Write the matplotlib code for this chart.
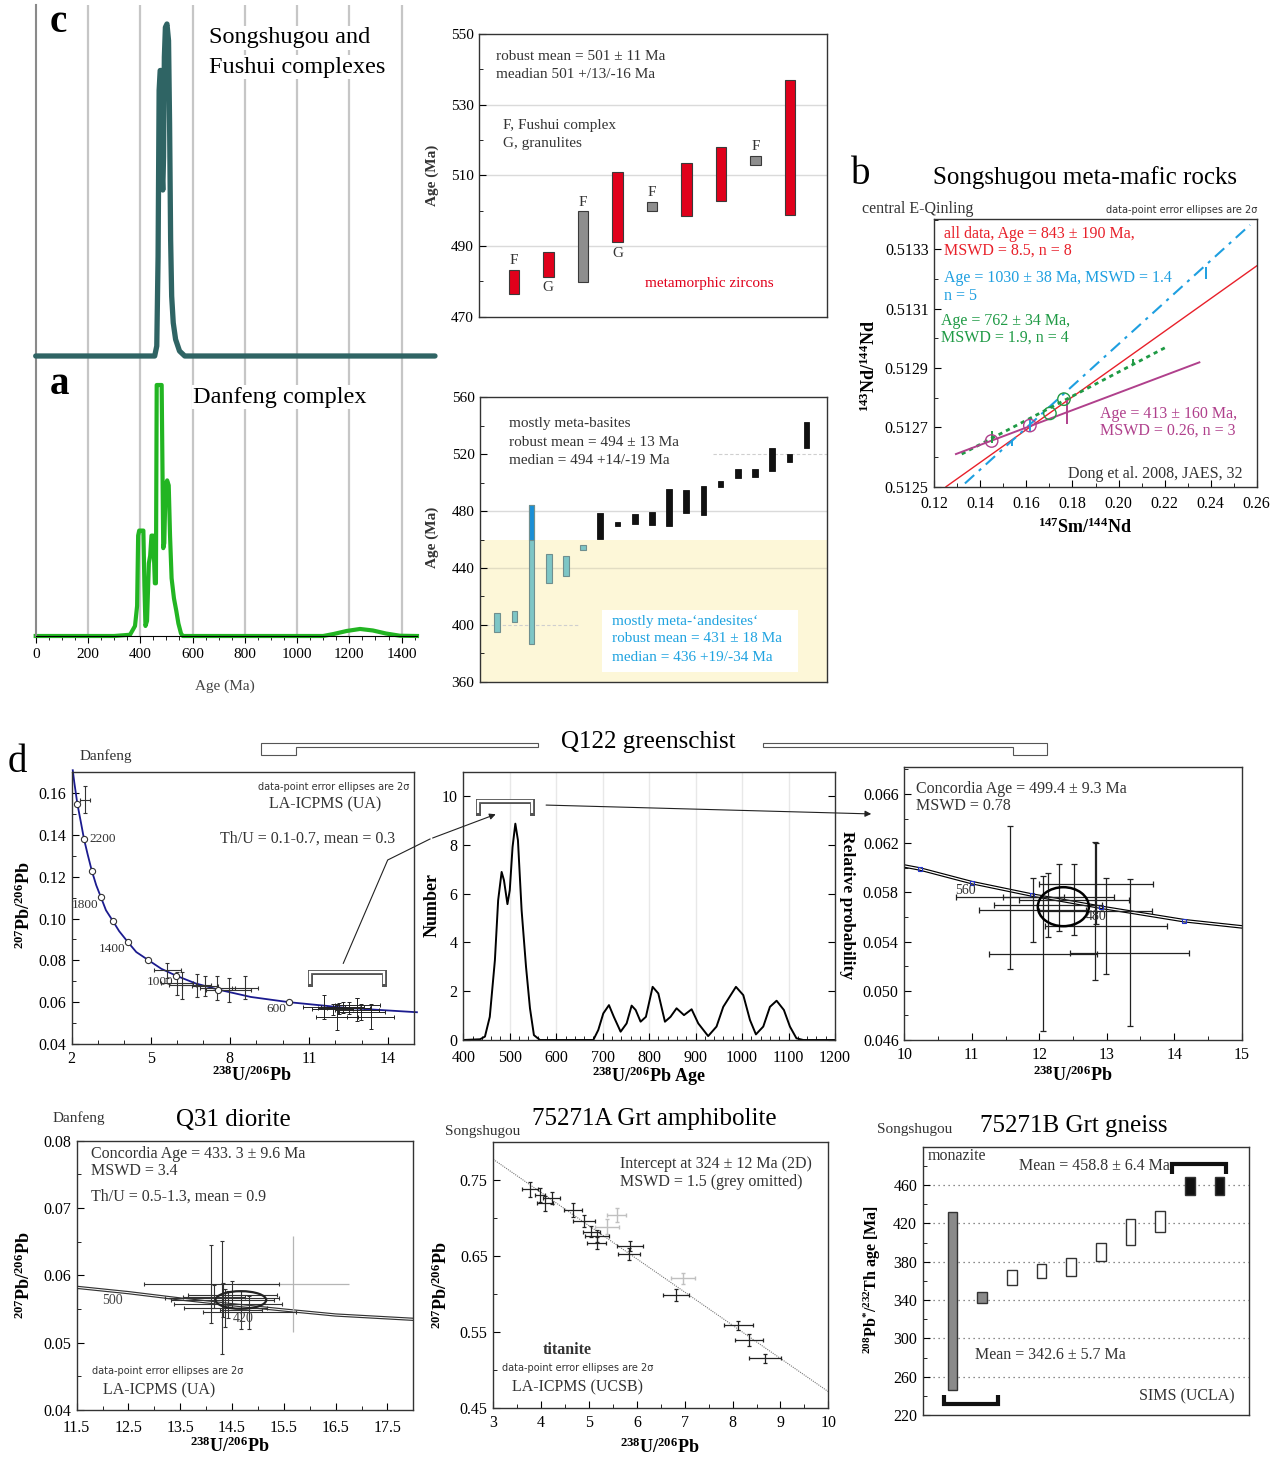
import numpy as np
import matplotlib
matplotlib.use('Agg')
import matplotlib.pyplot as plt
from matplotlib.patches import Ellipse, Rectangle, FancyArrowPatch, Polygon
from matplotlib.lines import Line2D
from matplotlib.ticker import MultipleLocator, FixedLocator, FormatStrFormatter, NullLocator

plt.rcParams['font.family'] = ['Liberation Serif', 'DejaVu Serif']
plt.rcParams['mathtext.fontset'] = 'custom'
plt.rcParams['mathtext.rm'] = 'Liberation Serif'
plt.rcParams['mathtext.it'] = 'Liberation Serif:italic'
plt.rcParams['mathtext.bf'] = 'Liberation Serif:bold'
plt.rcParams['xtick.direction'] = 'in'
plt.rcParams['ytick.direction'] = 'in'

#===# DATA #===#

#==# c / a : age spectra #==#
ageC = [0, 455, 463, 468, 472, 476, 480, 483, 486, 489, 492, 496, 502, 508, 512, 516, 520, 526, 535, 550, 570, 1527]
probC = [0, 0, 0.03, 0.30, 0.80, 0.86, 0.86, 0.55, 0.50, 0.60, 0.90, 0.99, 1.0, 0.95, 0.70, 0.35, 0.18, 0.10, 0.05, 0.015, 0, 0]

ageA = [0, 300, 361, 380, 388, 392, 396, 404, 412, 416, 420, 426, 433, 438, 443, 449, 453, 456, 460,
        463, 470, 482, 488, 492, 497, 503, 509, 514, 520, 529, 538, 546, 556, 563,
        1100, 1140, 1190, 1241, 1290, 1340, 1394, 1459]
probA = [0, 0, 0.005, 0.04, 0.12, 0.40, 0.42, 0.42, 0.42, 0.20, 0.04, 0.06, 0.29, 0.32, 0.40, 0.40, 0.30, 0.21, 0.21,
         1.0, 1.0, 1.0, 0.35, 0.37, 0.60, 0.62, 0.60, 0.40, 0.23, 0.15, 0.10, 0.05, 0.01, 0,
         0, 0.008, 0.02, 0.028, 0.022, 0.01, 0.001, 0]

#==# c : metamorphic zircon ages #==#
zr_lo = [476.4, 481.3, 479.7, 491.0, 500.0, 498.6, 502.7, 512.8, 498.9]
zr_hi = [483.2, 488.2, 499.8, 511.0, 502.5, 513.5, 517.9, 515.6, 537.0]
zr_kind = ['m', 'm', 'F', 'm', 'F', 'm', 'm', 'F', 'm']
zr_lab = ['F', 'G', 'F', 'G', 'F', '', '', 'F', '']
zr_lab_pos = ['up', 'down', 'up', 'down', 'up', '', '', 'up', '']
zr_ticks = [470, 490, 510, 530, 550]

#==# a : Danfeng ages #==#
df_lo = [394.7, 401.7, 386.5, 429.6, 434.6, 452.4, 460.1, 469.3, 471.1, 470.4, 469.3, 478.6, 477.2,
         497.2, 503.5, 504.0, 508.4, 514.3, 524.6]
df_hi = [408.5, 409.7, 484.3, 449.6, 448.6, 456.1, 478.9, 472.3, 477.7, 479.1, 495.8, 494.8, 497.6,
         501.1, 509.4, 509.8, 524.6, 519.9, 542.4]
df_andesite = [True] * 6 + [False] * 13
andesite_limit = 460

#==# b : Sm-Nd isochrons #==#
iso_red_x, iso_red_y = [0.1251, 0.26], [0.5125, 0.513244]
iso_blue_x, iso_blue_y = [0.1333, 0.2571], [0.512511, 0.513382]
iso_green_x, iso_green_y = [0.1319, 0.2216], [0.51261, 0.512974]
iso_purple_x, iso_purple_y = [0.1294, 0.2351], [0.51261, 0.512919]
nd_x = [0.1449, 0.1615, 0.1702, 0.1763]
nd_y = [0.512654, 0.512706, 0.512747, 0.512795]
nd_col = ['#b0408c', '#b0408c', '#1f9a45', '#1f9a45']
ndtick_x = [0.1615, 0.1536, 0.238, 0.2061, 0.1449, 0.1775]
ndtick_y = [0.512706, 0.512646, 0.513219, 0.512919, 0.512668, 0.512752]
ndtick_err = [0.00002, 0.00001, 0.00002, 0.00001, 0.00002, 0.00004]
ndtick_col = ['#1e9fe0', '#1e9fe0', '#1e9fe0', '#1f9a45', '#1f9a45', '#b0408c']

#==# d : Q122 concordia (full) #==#
conc1_x = [2.04, 2.10, 2.215, 2.35, 2.468, 2.60, 2.76, 2.93, 3.11, 3.30, 3.56, 3.80, 4.13, 4.45, 4.90,
           5.40, 5.96, 6.70, 7.57, 8.80, 10.25, 12.5, 15.1]
conc1_y = [0.171, 0.165, 0.1549, 0.146, 0.138, 0.131, 0.123, 0.116, 0.1102, 0.104, 0.0989, 0.094, 0.0888,
           0.084, 0.0802, 0.076, 0.0727, 0.069, 0.066, 0.0625, 0.0600, 0.0572, 0.0552]
conc1_mx = [2.215, 2.468, 2.76, 3.11, 3.56, 4.13, 4.90, 5.96, 7.57, 10.25]
conc1_my = [0.1549, 0.138, 0.123, 0.1102, 0.0989, 0.0888, 0.0802, 0.0727, 0.066, 0.0600]
old_x = [2.51, 5.63, 5.99, 6.20, 6.75, 7.06, 7.53, 7.95, 8.58]
old_y = [0.1568, 0.0752, 0.0690, 0.0680, 0.0680, 0.0678, 0.0667, 0.0657, 0.0670]
old_xe = [0.19, 0.51, 0.60, 0.50, 0.55, 0.50, 0.65, 0.85, 0.50]
old_ye = [0.0065, 0.0036, 0.0055, 0.0064, 0.0056, 0.0048, 0.0056, 0.0057, 0.0056]

#==# d : Q122 concordia (zoom) #==#
conc3_x = [10.0, 10.23, 11.0, 11.89, 12.92, 14.15, 15.0]
conc3_y = [0.06015, 0.05991, 0.0588, 0.05779, 0.05679, 0.0557, 0.0552]
young_x = [11.57, 11.90, 12.06, 12.13, 12.29, 12.52, 12.83, 12.99, 13.34, 12.84]
young_y = [0.0576, 0.0566, 0.0530, 0.0570, 0.0576, 0.0574, 0.0565, 0.0553, 0.0531, 0.0587]
young_xe = [0.80, 0.79, 0.80, 0.80, 0.82, 0.815, 0.84, 0.90, 0.88, 0.84]
young_ye = [0.0058, 0.0026, 0.0063, 0.0026, 0.0027, 0.0029, 0.0056, 0.0039, 0.0060, 0.0033]
q122_ell = (12.357, 0.05684, 0.756, 0.00317)

#==# d : Q122 age spectrum #==#
q_age = [400, 436, 446.6, 457, 468, 475, 482.5, 487.5, 495, 500, 506, 512, 517.6, 525.5, 535, 543.5, 552, 565,
         679.8, 690.5, 701.3, 713.5, 724, 738.6, 751.5, 762.3, 771, 781.6, 793, 807.5, 819.7, 834, 846, 859,
         875, 891.4, 905.7, 927, 945, 959.5, 986.8, 1002.6, 1017, 1029.8, 1045.6, 1060, 1074.3, 1090, 1103,
         1117, 1131.7, 1200]
q_num = [0, 0.03, 0.14, 0.95, 3.27, 5.73, 6.89, 6.55, 5.57, 6.14, 7.91, 8.87, 8.19, 5.32, 3.0, 1.3, 0.2, 0,
         0, 0.41, 1.09, 1.43, 0.95, 0.34, 0.68, 1.41, 1.23, 0.75, 0.95, 2.18, 1.91, 0.75, 0.95, 1.3,
         1.02, 1.26, 0.68, 0.16, 0.55, 1.36, 2.18, 1.84, 0.82, 0.23, 0.55, 1.36, 1.61, 1.23, 0.55,
         0.07, 0, 0]

#==# Q31 diorite #==#
conc_e_x = [11.5, 12.5, 13.5, 14.5, 15.5, 16.5, 18.0]
conc_e_y = [0.05822, 0.05743, 0.05649, 0.05564, 0.05485, 0.05411, 0.05347]
q31_x = [14.10, 14.30, 14.50, 14.32, 14.42, 14.37, 14.83, 14.67, 14.15]
q31_y = [0.0587, 0.0567, 0.0571, 0.0563, 0.0557, 0.0551, 0.0545, 0.0549, 0.0568]
q31_xe = [1.31, 1.10, 0.86, 0.99, 1.04, 0.80, 0.90, 0.40, 0.60]
q31_ye = [0.0058, 0.0084, 0.0020, 0.0025, 0.0020, 0.0028, 0.0025, 0.0028, 0.0017]
q31_grey = (15.67, 0.0587, 1.08, 0.0071)
q31_ell = (14.67, 0.05634, 0.98, 0.00262)

#==# 75271A titanite #==#
tit_line_x, tit_line_y = [3.0, 10.0], [0.7772, 0.4719]
tit_x = [3.77, 3.98, 4.08, 4.22, 4.67, 4.89, 5.05, 5.16, 5.16, 5.86, 5.84, 6.81, 8.12, 8.34, 8.68]
tit_y = [0.7378, 0.7303, 0.7194, 0.7268, 0.7106, 0.6966, 0.6822, 0.6765, 0.6677, 0.6633, 0.6528, 0.5989,
         0.5591, 0.5398, 0.5157]
tit_xe = [0.17, 0.10, 0.16, 0.18, 0.19, 0.23, 0.17, 0.25, 0.20, 0.27, 0.23, 0.27, 0.30, 0.30, 0.33]
tit_ye = [0.010, 0.009, 0.010, 0.008, 0.009, 0.008, 0.007, 0.008, 0.008, 0.007, 0.008, 0.008, 0.006, 0.008, 0.006]
titg_x = [5.58, 5.37, 6.97]
titg_y = [0.7041, 0.6887, 0.6208]
titg_xe = [0.20, 0.25, 0.25]
titg_ye = [0.009, 0.010, 0.007]

#==# 75271B monazite #==#
mz_lo = [246.1, 337.2, 355.7, 362.6, 365.0, 381.0, 397.0, 410.6, 449.6, 449.6]
mz_hi = [431.5, 348.7, 371.3, 377.2, 383.8, 399.8, 424.9, 432.9, 468.7, 468.7]
mz_kind = ['grey', 'grey', 'open', 'open', 'open', 'open', 'open', 'open', 'black', 'black']
mz_ticks = [220, 260, 300, 340, 380, 420, 460]

#===# FIGURE #===#
W, H = 1283, 1457
fig = plt.figure(figsize=(W / 100, H / 100), dpi=100)


def px_ax(l, t, r, b):
    return fig.add_axes([l / W, 1 - b / H, (r - l) / W, (b - t) / H])


def ftxt(x, y, s, **kw):
    kw.setdefault('va', 'center')
    kw.setdefault('ha', 'left')
    kw.setdefault('fontsize', 11)
    return fig.text(x / W, 1 - y / H, s, **kw)


def fline(xs, ys, **kw):
    fig.add_artist(Line2D([x / W for x in xs], [1 - y / H for y in ys], transform=fig.transFigure, **kw))


def box_style(ax, fs=11):
    ax.tick_params(labelsize=fs, which='both', top=False, right=False)
    ax.tick_params(which='major', length=5)
    ax.tick_params(which='minor', length=3)
    ax.tick_params(axis='x', pad=5)
    ax.tick_params(axis='y', pad=4)
    for s in ax.spines.values():
        s.set_linewidth(1.0)
        s.set_color('#333333')


def dbl_bracket(ax, xs, ys):
    ax.plot(xs, ys, color='#555555', lw=3.6, solid_capstyle='projecting', solid_joinstyle='miter', clip_on=False)
    ax.plot(xs, ys, color='white', lw=1.6, solid_capstyle='butt', solid_joinstyle='miter', clip_on=False)


#==# c / a spectra #==#
ax_a = px_ax(35.7, 5, 417, 636)
ax_a.set_xlim(0, 1459)
ax_a.set_ylim(0, 631 / 251)
for g in range(200, 1401, 200):
    ax_a.axvline(g, color='#c6c6c6', lw=1.6, zorder=0)
ax_a.plot(ageA, probA, color='#22b522', lw=3.0, solid_joinstyle='round', clip_on=False)
ax_a.spines['top'].set_visible(False)
ax_a.spines['right'].set_visible(False)
ax_a.spines['left'].set_color('#8a8a8a')
ax_a.spines['left'].set_linewidth(1.5)
ax_a.set_yticks([])
ax_a.xaxis.set_major_locator(MultipleLocator(200))
ax_a.xaxis.set_minor_locator(MultipleLocator(50))
ax_a.tick_params(axis='x', which='both', direction='out', labelsize=11)
ax_a.tick_params(axis='x', which='major', length=5)
ax_a.tick_params(axis='x', which='minor', length=3)
ax_a.patch.set_alpha(0)

ax_c = px_ax(35.7, 5, 435, 356)
ax_c.set_xlim(0, 1527)
ax_c.set_ylim(0, 351 / 332)
ax_c.axis('off')
ax_c.plot(ageC, probC, color='#2f6464', lw=3.8, solid_joinstyle='round', solid_capstyle='round', clip_on=False)

wb = dict(facecolor='white', edgecolor='none', pad=1)
ftxt(50, 23, 'c', fontsize=28, fontweight='bold')
ftxt(209, 38, 'Songshugou and', fontsize=17.5, bbox=wb)
ftxt(209, 67, 'Fushui complexes', fontsize=17.5, bbox=wb)
ftxt(50, 385, 'a', fontsize=28, fontweight='bold')
ftxt(193, 397, 'Danfeng complex', fontsize=17.5, bbox=wb)
ftxt(225, 686, 'Age (Ma)', ha='center', color='#444444')

#==# c metamorphic zircons #==#
ax_z = px_ax(479.3, 34, 826.7, 316.7)
ax_z.set_xlim(0, 10.06)
ax_z.set_ylim(470, 550)
for v in zr_ticks[1:-1]:
    ax_z.axhline(v, color='#dadada', lw=1.0, zorder=0)
zx = np.arange(1, len(zr_lo) + 1)
zcol = ['#e0001b' if k == 'm' else '#8e8e8e' for k in zr_kind]
ax_z.bar(zx, np.subtract(zr_hi, zr_lo), bottom=zr_lo, width=0.3, color=zcol, edgecolor='#3a3a3a', lw=0.8)
for i, lab in enumerate(zr_lab):
    if not lab:
        continue
    if zr_lab_pos[i] == 'up':
        ax_z.annotate(lab, (zx[i], zr_hi[i]), xytext=(0, 2), textcoords='offset points', ha='center', va='bottom',
                      fontsize=11, color='#333333')
    else:
        ax_z.annotate(lab, (zx[i], zr_lo[i]), xytext=(0, -3), textcoords='offset points', ha='center', va='top',
                      fontsize=11, color='#333333')
ax_z.set_xticks([])
ax_z.yaxis.set_major_locator(FixedLocator(zr_ticks))
ax_z.yaxis.set_minor_locator(MultipleLocator(10))
box_style(ax_z)
ftxt(496, 57, 'robust mean = 501 ± 11 Ma', color='#333333')
ftxt(496, 75, 'meadian 501 +/13/-16 Ma', color='#333333')
ftxt(503, 125, 'F, Fushui complex', color='#333333')
ftxt(503, 143, 'G, granulites', color='#333333')
ftxt(645, 284, 'metamorphic zircons', color='#e0001b')
ftxt(432, 175, 'Age (Ma)', rotation=90, ha='center', fontweight='bold', color='#333333')

#==# a Danfeng ages #==#
ax_d = px_ax(480, 397.3, 826.7, 681.7)
ax_d.set_xlim(0, 20.17)
ax_d.set_ylim(360, 560)
ax_d.axhspan(360, andesite_limit, color='#fdf7d8', zorder=0, lw=0)
ax_d.axhline(480, color='#dadada', lw=1.0, zorder=0.5)
ax_d.axhline(440, color='#e2ddc3', lw=1.0, zorder=0.5)
ax_d.axhline(400, xmax=0.283, color='#cfcfcf', lw=0.8, ls=(0, (3, 2)), zorder=0.5)
ax_d.axhline(520, xmin=0.672, color='#cfcfcf', lw=0.8, ls=(0, (3, 2)), zorder=0.5)
ax_d.add_patch(Rectangle((0.351, 0.035), 0.567, 0.217, transform=ax_d.transAxes, facecolor='white',
                         edgecolor='none', zorder=0.6))
dx = np.arange(1, len(df_lo) + 1)
for i in range(len(df_lo)):
    if df_andesite[i]:
        ax_d.bar(dx[i], df_hi[i] - df_lo[i], bottom=df_lo[i], width=0.33, color='#7ec6c6', edgecolor='#6f8f8f',
                 lw=0.8, zorder=2)
        if df_hi[i] > andesite_limit:
            ax_d.bar(dx[i], df_hi[i] - andesite_limit, bottom=andesite_limit, width=0.33, color='#1a8fd6',
                     edgecolor='#6f8f8f', lw=0.8, zorder=2)
    else:
        ax_d.bar(dx[i], df_hi[i] - df_lo[i], bottom=df_lo[i], width=0.33, color='#111111', edgecolor='#111111',
                 lw=0.6, zorder=2)
ax_d.set_xticks([])
ax_d.yaxis.set_major_locator(MultipleLocator(40))
ax_d.yaxis.set_minor_locator(MultipleLocator(20))
box_style(ax_d)
ftxt(509, 423, 'mostly meta-basites', color='#333333')
ftxt(509, 442, 'robust mean = 494 ± 13 Ma', color='#333333')
ftxt(509, 460, 'median = 494 +14/-19 Ma', color='#333333')
ftxt(612, 621, 'mostly meta-\u2018andesites\u2018', color='#1fa3e0')
ftxt(612, 639, 'robust mean = 431 ± 18 Ma', color='#1fa3e0')
ftxt(612, 657, 'median = 436 +19/-34 Ma', color='#1fa3e0')
ftxt(432, 537, 'Age (Ma)', rotation=90, ha='center', fontweight='bold', color='#333333')

#==# b Sm-Nd #==#
ax_b = px_ax(934.3, 219.3, 1256.7, 486.7)
ax_b.set_xlim(0.12, 0.26)
ax_b.set_ylim(0.5125, 0.513401)
ax_b.plot(iso_red_x, iso_red_y, color='#e8202a', lw=1.0)
ax_b.plot(iso_blue_x, iso_blue_y, color='#1e9fe0', lw=1.5, ls=(0, (6, 3, 1.5, 3)))
ax_b.plot(iso_green_x, iso_green_y, color='#1f9a45', lw=2.0, ls=(0, (1.5, 1.5)))
ax_b.plot(iso_purple_x, iso_purple_y, color='#b0408c', lw=1.4)
ax_b.errorbar(ndtick_x, ndtick_y, yerr=ndtick_err, fmt='none', ecolor=ndtick_col, elinewidth=1.4)
ax_b.scatter(nd_x, nd_y, s=80, facecolors='none', edgecolors=nd_col, linewidths=1.0, zorder=3)
ax_b.xaxis.set_major_locator(MultipleLocator(0.02))
ax_b.xaxis.set_minor_locator(MultipleLocator(0.01))
ax_b.xaxis.set_major_formatter(FormatStrFormatter('%.2f'))
ax_b.yaxis.set_major_locator(FixedLocator([0.5125, 0.5127, 0.5129, 0.5131, 0.5133]))
ax_b.yaxis.set_minor_locator(FixedLocator([0.5126, 0.5128, 0.5130, 0.5132, 0.5134]))
ax_b.yaxis.set_major_formatter(FormatStrFormatter('%.4f'))
box_style(ax_b, fs=11.5)
ax_b.tick_params(axis='x', pad=7)
ftxt(851, 175, 'b', fontsize=28)
ftxt(933, 178, 'Songshugou meta-mafic rocks', fontsize=18)
ftxt(862, 209, 'central E-Qinling', fontsize=11.5, color='#333333')
ftxt(1106, 210, 'data-point error ellipses are 2σ', fontsize=7, family='DejaVu Sans', color='#333333')
ftxt(944, 234, 'all data, Age = 843 ± 190 Ma,', color='#e8202a', fontsize=11.5)
ftxt(944, 251, 'MSWD = 8.5, n = 8', color='#e8202a', fontsize=11.5)
ftxt(944, 278, 'Age = 1030 ± 38 Ma, MSWD = 1.4', color='#1e9fe0', fontsize=11.5)
ftxt(944, 296, 'n = 5', color='#1e9fe0', fontsize=11.5)
ftxt(941, 321, 'Age = 762 ± 34 Ma,', color='#1f9a45', fontsize=11.5)
ftxt(941, 338, 'MSWD = 1.9, n = 4', color='#1f9a45', fontsize=11.5)
ftxt(1100, 414, 'Age = 413 ± 160 Ma,', color='#b0408c', fontsize=11.5)
ftxt(1100, 431, 'MSWD = 0.26, n = 3', color='#b0408c', fontsize=11.5)
ftxt(1243, 474, 'Dong et al. 2008, JAES, 32', ha='right', fontsize=11.5, color='#333333')
ftxt(869, 366, r'$\mathbf{^{143}Nd/^{144}Nd}$', rotation=90, ha='center', fontsize=13)
ftxt(1085, 527, r'$\mathbf{^{147}Sm/^{144}Nd}$', ha='center', fontsize=13)

#==# d header #==#
ftxt(8, 763, 'd', fontsize=28)
ftxt(80, 756, 'Danfeng', fontsize=11, color='#333333')
ftxt(648, 742, 'Q122 greenschist', ha='center', fontsize=18)
hdr_l = [(538, 743), (261, 743), (261, 755), (296, 755), (296, 747), (538, 747)]
hdr_r = [(763, 743), (1047, 743), (1047, 755), (1013, 755), (1013, 747), (763, 747)]
for pts in (hdr_l, hdr_r):
    fig.add_artist(Polygon([(x / W, 1 - y / H) for x, y in pts], closed=True, fill=False, edgecolor='#555555',
                           lw=0.8, transform=fig.transFigure))

#==# d1 full concordia #==#
ax1 = px_ax(71.7, 772.3, 414.3, 1044)
ax1.set_xlim(2, 15)
ax1.set_ylim(0.04, 0.17)
ax1.plot(conc1_x, conc1_y, color='#1b1b8f', lw=1.3, clip_on=False, zorder=2)
ax1.errorbar(old_x, old_y, xerr=old_xe, yerr=old_ye, fmt='none', ecolor='#333333', elinewidth=0.8, capsize=1.5,
             capthick=0.8, zorder=3)
ax1.errorbar(young_x, young_y, xerr=young_xe, yerr=young_ye, fmt='none', ecolor='#222222', elinewidth=0.7,
             capsize=1.2, capthick=0.7, zorder=3)
ax1.scatter(conc1_mx, conc1_my, s=20, facecolor='white', edgecolor='#333333', linewidths=0.8, zorder=4)
dbl_bracket(ax1, [11.04, 11.04, 13.86, 13.86], [0.0687, 0.0744, 0.0744, 0.0687])
ax1.xaxis.set_major_locator(FixedLocator([2, 5, 8, 11, 14]))
ax1.xaxis.set_minor_locator(MultipleLocator(1))
ax1.yaxis.set_major_locator(MultipleLocator(0.02))
ax1.yaxis.set_minor_locator(MultipleLocator(0.01))
ax1.yaxis.set_major_formatter(FormatStrFormatter('%.2f'))
box_style(ax1, fs=11.5)
for s, xx, yy in [('2200', 89, 839), ('1800', 72, 905), ('1400', 99, 949), ('1000', 147, 982), ('600', 266, 1009)]:
    ftxt(xx, yy, s, fontsize=9.5, color='#333333')
ftxt(258, 787, 'data-point error ellipses are 2σ', fontsize=7, family='DejaVu Sans', color='#333333')
ftxt(269, 804, 'LA-ICPMS (UA)', fontsize=11.5, color='#333333')
ftxt(220, 839, 'Th/U = 0.1-0.7, mean = 0.3', fontsize=11.5, color='#333333')
ftxt(24, 905, r'$\mathbf{^{207}Pb/^{206}Pb}$', rotation=90, ha='center', fontsize=13)
ftxt(252, 1075, r'$\mathbf{^{238}U/^{206}Pb}$', ha='center', fontsize=13)

#==# d2 age spectrum #==#
ax2 = px_ax(463.3, 771.7, 835, 1040)
ax2.set_xlim(400, 1200)
ax2.set_ylim(0, 11)
for g in range(500, 1101, 100):
    ax2.axvline(g, color='#e8e8e8', lw=1.0, zorder=0)
ax2.plot(q_age, q_num, color='black', lw=1.4)
dbl_bracket(ax2, [431, 431, 548.5, 548.5], [9.32, 9.81, 9.81, 9.32])
ax2.xaxis.set_major_locator(MultipleLocator(100))
ax2.xaxis.set_minor_locator(MultipleLocator(20))
ax2.yaxis.set_major_locator(MultipleLocator(2))
ax2.yaxis.set_minor_locator(NullLocator())
box_style(ax2, fs=11.5)
ax2.tick_params(which='major', right=True)
ax2.tick_params(axis='x', pad=7)
ftxt(432, 905, 'Number', rotation=90, ha='center', fontweight='bold', fontsize=13)
ftxt(847, 905, 'Relative probability', rotation=-90, ha='center', fontweight='bold', fontsize=12.5)
ftxt(649, 1076, r'$\mathbf{^{238}U/^{206}Pb\ Age}$', ha='center', fontsize=13)

# connectors between the d panels
fline([343.3, 387.7, 430], [963.3, 860, 839], color='#222222', lw=0.8)
fig.add_artist(FancyArrowPatch((430 / W, 1 - 839 / H), (498.3 / W, 1 - 813.3 / H), transform=fig.transFigure,
                               arrowstyle='-|>', mutation_scale=9, color='#222222', lw=0.8))
fig.add_artist(FancyArrowPatch((543.3 / W, 1 - 805 / H), (874 / W, 1 - 814 / H), transform=fig.transFigure,
                               arrowstyle='-|>', mutation_scale=9, color='#222222', lw=0.8))

#==# d3 zoomed concordia #==#
ax3 = px_ax(904.3, 767, 1241.7, 1040)
ax3.set_xlim(10, 15)
ax3.set_ylim(0.046, 0.0682)
ax3.plot(conc3_x, conc3_y, color='black', lw=2.6, zorder=2)
ax3.plot(conc3_x, conc3_y, color='white', lw=0.9, zorder=2)
ax3.plot(conc3_x[1:-1], conc3_y[1:-1], 's', ms=2.5, mfc='none', mec='#2233cc', mew=0.8, zorder=3)
ax3.errorbar(young_x, young_y, xerr=young_xe, yerr=young_ye, fmt='none', ecolor='#222222', elinewidth=0.9,
             capsize=2, capthick=0.9, zorder=3)
ex, ey, ew, eh = q122_ell
ax3.add_patch(Ellipse((ex, ey), ew, eh, fill=False, edgecolor='black', lw=1.8, zorder=4))
ax3.xaxis.set_major_locator(MultipleLocator(1))
ax3.xaxis.set_minor_locator(MultipleLocator(0.5))
ax3.yaxis.set_major_locator(FixedLocator([0.046, 0.050, 0.054, 0.058, 0.062, 0.066]))
ax3.yaxis.set_minor_locator(FixedLocator([0.048, 0.052, 0.056, 0.060, 0.064, 0.068]))
ax3.yaxis.set_major_formatter(FormatStrFormatter('%.3f'))
box_style(ax3, fs=11.5)
ftxt(955, 891, '560', fontsize=10, color='#333333')
ftxt(1086, 917, '480', fontsize=10, color='#333333')
ftxt(916, 789, 'Concordia Age = 499.4 ± 9.3 Ma', fontsize=11.5, color='#333333')
ftxt(916, 806, 'MSWD = 0.78', fontsize=11.5, color='#333333')
ftxt(1073, 1075, r'$\mathbf{^{238}U/^{206}Pb}$', ha='center', fontsize=13)

#==# Q31 diorite #==#
axe = px_ax(76.7, 1140.7, 413.3, 1410)
axe.set_xlim(11.5, 18)
axe.set_ylim(0.04, 0.08)
axe.plot(conc_e_x, conc_e_y, color='#333333', lw=2.4, zorder=2)
axe.plot(conc_e_x, conc_e_y, color='white', lw=0.7, zorder=2)
gx, gy, gxe, gye = q31_grey
axe.errorbar([gx], [gy], xerr=[gxe], yerr=[gye], fmt='none', ecolor='#b5b5b5', elinewidth=0.9, zorder=2.5)
axe.errorbar(q31_x, q31_y, xerr=q31_xe, yerr=q31_ye, fmt='none', ecolor='#333333', elinewidth=0.8, capsize=1.5,
             capthick=0.8, zorder=3)
ex, ey, ew, eh = q31_ell
axe.add_patch(Ellipse((ex, ey), ew, eh, fill=False, edgecolor='#222222', lw=1.6, zorder=4))
axe.xaxis.set_major_locator(FixedLocator([11.5, 12.5, 13.5, 14.5, 15.5, 16.5, 17.5]))
axe.xaxis.set_minor_locator(FixedLocator([12, 13, 14, 15, 16, 17]))
axe.yaxis.set_major_locator(MultipleLocator(0.01))
axe.yaxis.set_minor_locator(MultipleLocator(0.005))
axe.yaxis.set_major_formatter(FormatStrFormatter('%.2f'))
box_style(axe, fs=11.5)
axe.tick_params(axis='x', pad=7)
ftxt(53, 1118, 'Danfeng', fontsize=11, color='#333333')
ftxt(233, 1120, 'Q31 diorite', ha='center', fontsize=18)
ftxt(91, 1154, 'Concordia Age = 433. 3 ± 9.6 Ma', fontsize=11.5, color='#333333')
ftxt(91, 1171, 'MSWD = 3.4', fontsize=11.5, color='#333333')
ftxt(91, 1197, 'Th/U = 0.5-1.3, mean = 0.9', fontsize=11.5, color='#333333')
ftxt(102, 1300, '500', fontsize=10, color='#444444')
ftxt(233, 1318, '420', fontsize=10, color='#444444')
ftxt(92, 1371, 'data-point error ellipses are 2σ', fontsize=7, family='DejaVu Sans', color='#333333')
ftxt(103, 1390, 'LA-ICPMS (UA)', fontsize=11.5, color='#333333')
ftxt(24, 1275, r'$\mathbf{^{207}Pb/^{206}Pb}$', rotation=90, ha='center', fontsize=13)
ftxt(230, 1446, r'$\mathbf{^{238}U/^{206}Pb}$', ha='center', fontsize=13)

#==# 75271A titanite #==#
axf = px_ax(493.3, 1141.7, 828.3, 1408.3)
axf.set_xlim(3, 10)
axf.set_ylim(0.45, 0.8004)
axf.plot(tit_line_x, tit_line_y, color='#777777', lw=0.8, ls=(0, (1, 1)))
axf.errorbar(titg_x, titg_y, xerr=titg_xe, yerr=titg_ye, fmt='none', ecolor='#c0c0c0', elinewidth=1.0,
             capsize=1.5, capthick=1.0)
axf.errorbar(tit_x, tit_y, xerr=tit_xe, yerr=tit_ye, fmt='none', ecolor='#222222', elinewidth=0.9,
             capsize=1.5, capthick=0.9)
axf.xaxis.set_major_locator(MultipleLocator(1))
axf.xaxis.set_minor_locator(MultipleLocator(0.5))
axf.yaxis.set_major_locator(FixedLocator([0.45, 0.55, 0.65, 0.75]))
axf.yaxis.set_minor_locator(FixedLocator([0.50, 0.60, 0.70]))
axf.yaxis.set_major_formatter(FormatStrFormatter('%.2f'))
box_style(axf, fs=11.5)
ftxt(445, 1131, 'Songshugou', fontsize=11, color='#333333')
ftxt(532, 1119, '75271A Grt amphibolite', fontsize=18)
ftxt(620, 1164, 'Intercept at 324 ± 12 Ma (2D)', fontsize=11.5, color='#333333')
ftxt(620, 1182, 'MSWD = 1.5 (grey omitted)', fontsize=11.5, color='#333333')
ftxt(567, 1350, 'titanite', ha='center', fontsize=11.5, fontweight='bold', color='#333333')
ftxt(578, 1368, 'data-point error ellipses are 2σ', ha='center', fontsize=7, family='DejaVu Sans',
     color='#333333')
ftxt(578, 1387, 'LA-ICPMS (UCSB)', ha='center', fontsize=11.5, color='#333333')
ftxt(441, 1285, r'$\mathbf{^{207}Pb/^{206}Pb}$', rotation=90, ha='center', fontsize=13)
ftxt(660, 1447, r'$\mathbf{^{238}U/^{206}Pb}$', ha='center', fontsize=13)

#==# 75271B monazite #==#
axg = px_ax(922.7, 1146.7, 1249.3, 1415)
axg.set_xlim(0, 11)
axg.set_ylim(220, 500)
for v in mz_ticks[1:]:
    axg.axhline(v, color='#666666', lw=0.9, ls=(0, (1, 3)), zorder=0)
gxp = np.arange(1, len(mz_lo) + 1)
face = {'grey': '#8a8a8a', 'open': 'white', 'black': '#111111'}
axg.bar(gxp, np.subtract(mz_hi, mz_lo), bottom=mz_lo, width=0.32, color=[face[k] for k in mz_kind],
        edgecolor='#333333', lw=1.0, zorder=2)
axg.plot([0.72, 0.72, 2.54, 2.54], [240.9, 231, 231, 240.9], color='#111111', lw=3, solid_joinstyle='miter',
         solid_capstyle='butt')
axg.plot([8.4, 8.4, 10.2, 10.2], [472, 482, 482, 472], color='#111111', lw=3, solid_joinstyle='miter',
         solid_capstyle='butt')
axg.set_xticks([])
axg.yaxis.set_major_locator(FixedLocator(mz_ticks))
axg.yaxis.set_minor_locator(MultipleLocator(20))
box_style(axg, fs=11.5)
ftxt(877, 1129, 'Songshugou', fontsize=11, color='#333333')
ftxt(980, 1126, '75271B Grt gneiss', fontsize=18)
ftxt(928, 1156, 'monazite', fontsize=11.5, color='#333333')
ftxt(1019, 1166, 'Mean = 458.8 ± 6.4 Ma', fontsize=11.5, color='#333333')
ftxt(975, 1355, 'Mean = 342.6 ± 5.7 Ma', fontsize=11.5, color='#333333')
ftxt(1139, 1396, 'SIMS (UCLA)', fontsize=11.5, color='#333333')
ftxt(872, 1280, r'$\mathbf{^{208}Pb^{*}/^{232}Th\ age\ [Ma]}$', rotation=90, ha='center', fontsize=11.5)

fig.savefig('out.png', dpi=100)
